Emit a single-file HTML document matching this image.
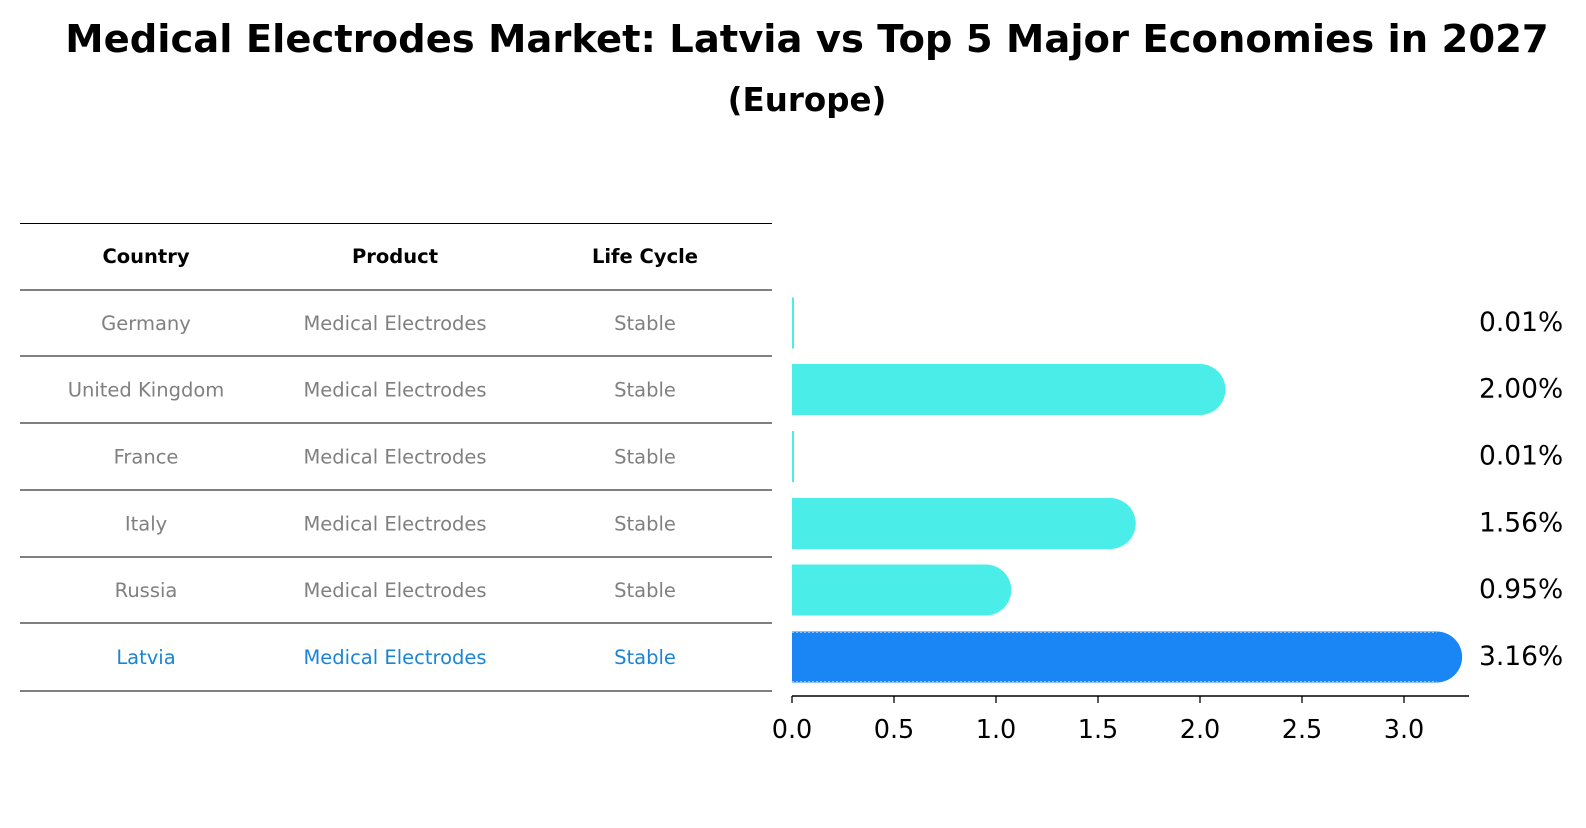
<!DOCTYPE html>
<html><head><meta charset="utf-8"><style>
body{margin:0;background:#fff;font-family:"Liberation Sans","DejaVu Sans",sans-serif}
</style></head><body>
<svg width="1586" height="823" xmlns="http://www.w3.org/2000/svg" font-family="DejaVu Sans, Liberation Sans, sans-serif">
<text x="807" y="52" font-size="38.5" font-weight="bold" text-anchor="middle">Medical Electrodes Market: Latvia vs Top 5 Major Economies in 2027</text>
<text x="807" y="111" font-size="32.5" font-weight="bold" text-anchor="middle">(Europe)</text>
<g id="table"></g>
<g id="bars"></g>
</svg>
<script>
const countries=["Germany","United Kingdom","France","Italy","Russia","Latvia"];
const products=["Medical Electrodes","Medical Electrodes","Medical Electrodes","Medical Electrodes","Medical Electrodes","Medical Electrodes"];
const lifeCycles=["Stable","Stable","Stable","Stable","Stable","Stable"];
const values=[0.01,2.00,0.01,1.56,0.95,3.16];
const valueLabels=["0.01%","2.00%","0.01%","1.56%","0.95%","3.16%"];
const ticks=[0,0.5,1.0,1.5,2.0,2.5,3.0];
const NS="http://www.w3.org/2000/svg";
function mk(tag,attrs,parent,text){const e=document.createElementNS(NS,tag);for(const k in attrs)e.setAttribute(k,attrs[k]);if(text!==undefined)e.textContent=text;parent.appendChild(e);return e;}
const table=document.getElementById('table');
const lines=[223.5,290,356,423,490,557,623,691];
lines.forEach(y=>{const l=mk('line',{x1:20,x2:772,y1:y,y2:y,stroke:'#000','stroke-width':1},table);

});
const colX=[146,395,645];
["Country","Product","Life Cycle"].forEach((h,i)=>{const t=mk('text',{x:colX[i],y:263,'font-size':19.5,'font-weight':'bold','text-anchor':'middle'},table,h);

});
countries.forEach((c,i)=>{const y=(lines[i+1]+lines[i+2])/2+7;const col=i===5?'#1a85d6':'#808080';
[c,products[i],lifeCycles[i]].forEach((v,j)=>{const t=mk('text',{x:colX[j],y:y,'font-size':19.5,fill:col,'text-anchor':'middle'},table,v);

});});
const bars=document.getElementById('bars');
const x0=792,scale=204,bh=51,r=25.5;
const xs=v=>x0+v*scale;
const rowY=i=>(lines[i+1]+lines[i+2])/2;
values.forEach((v,i)=>{const cy=rowY(i);const w=v*scale;const col=i===5?'#1a85f5':'#4aede8';
if(w<4){const b=mk('rect',{x:x0,y:cy-bh/2,width:2,height:bh,fill:col},bars);

}
else{const g=mk('g',{},bars);


mk('rect',{x:x0,y:cy-bh/2,width:w+r,height:bh,rx:r,ry:r,fill:col},g);
mk('rect',{x:x0,y:cy-bh/2,width:Math.min(w,r*2),height:bh,fill:col},g);
if(i===5){mk('line',{x1:x0,x2:xs(v),y1:cy-bh/2+1,y2:cy-bh/2+1,stroke:'#8fc4f5','stroke-dasharray':'2,2'},g);
mk('line',{x1:x0,x2:xs(v),y1:cy+bh/2-1,y2:cy+bh/2-1,stroke:'#8fc4f5','stroke-dasharray':'2,2'},g);}}
const t=mk('text',{x:1479,y:cy+8,'font-size':26.5},bars,valueLabels[i]);

});
const ax=mk('line',{x1:x0,x2:1469,y1:696,y2:696,stroke:'#000','stroke-width':1.5},bars);


ticks.forEach(t=>{const tk=mk('line',{x1:xs(t),x2:xs(t),y1:696,y2:703,stroke:'#000','stroke-width':1.3},bars);


const l=mk('text',{x:xs(t),y:738,'font-size':25.5,'text-anchor':'middle'},bars,t.toFixed(1));

});
</script>
</body></html>
